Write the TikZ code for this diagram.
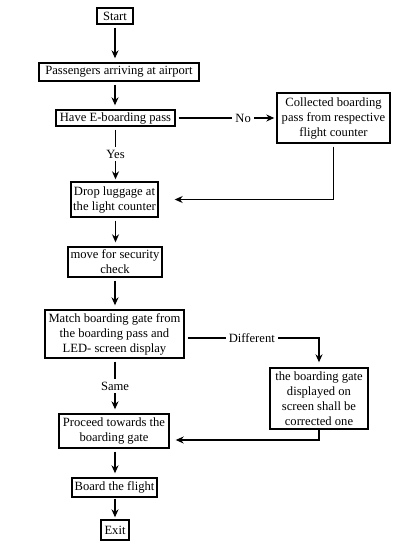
\documentclass[tikz,border=0pt]{standalone}
\usepackage{fontspec}
\setmainfont{Liberation Serif}
\usetikzlibrary{arrows.meta}
\begin{document}
\begin{tikzpicture}[x=1pt,y=-1pt,
  box/.style={draw,line width=1.4pt,inner sep=0pt,align=center,font=\fontsize{12.6}{15}\selectfont},
  arr/.style={line width=1.2pt,-{Stealth[length=8pt,width=7pt]},shorten <=3pt,shorten >=4pt},
  lbl/.style={fill=white,inner sep=3pt,font=\fontsize{12.6}{15}\selectfont}]
\useasboundingbox (0,0) rectangle (400,548);
\node[box,minimum width=36pt,minimum height=16pt] (start) at (115,16) {Start};
\node[box,minimum width=160pt,minimum height=18pt] (pass) at (119,72) {Passengers arriving at airport};
\node[box,minimum width=119pt,minimum height=16pt] (have) at (115.5,118) {Have E-boarding pass};
\node[box,minimum width=113pt,minimum height=50pt] (coll) at (333.5,118) {Collected boarding\\pass from respective\\flight counter};
\node[box,minimum width=87pt,minimum height=35pt] (drop) at (114.5,199.5) {Drop luggage at\\the light counter};
\node[box,minimum width=94pt,minimum height=30pt] (move) at (115,262) {move for security\\check};
\node[box,minimum width=139pt,minimum height=48pt] (match) at (114.5,334) {Match boarding gate from\\the boarding pass and\\LED- screen display};
\node[box,minimum width=98pt,minimum height=61pt] (gate) at (319,398.5) {the boarding gate\\displayed on\\screen shall be\\corrected one};
\node[box,minimum width=110pt,minimum height=34pt] (proceed) at (114,431) {Proceed towards the\\boarding gate};
\node[box,minimum width=85pt,minimum height=19pt] (board) at (114.5,487.5) {Board the flight};
\node[box,minimum width=28pt,minimum height=20pt] (exit) at (115,530) {Exit};

\draw[arr] (start.south) -- (start.south |- pass.north);
\draw[arr] (start.south |- pass.south) -- (start.south |- have.north);
\draw[arr,shorten >=2pt] (have.south) -- node[lbl]{Yes} (have.south |- drop.north);
\draw[arr] (have.south |- drop.south) -- (have.south |- move.north);
\draw[arr] (move.south) -- (move.south |- match.north);
\draw[arr] (move.south |- match.south) -- node[lbl]{Same} (move.south |- proceed.north);
\draw[arr] (move.south |- proceed.south) -- (move.south |- board.north);
\draw[arr,shorten <=1pt,shorten >=2pt] (move.south |- board.south) -- (move.south |- exit.north);

\draw[arr,shorten >=2pt] (have.east) -- node[lbl,pos=0.67]{No} (coll.west);
\draw[arr,shorten >=16pt] (coll.south) |- (drop.east);

\coordinate (m1) at ([yshift=-4pt]match.east);
\coordinate (d1) at (m1 -| gate.north);
\draw[arr,shorten >=5pt] (m1) -- node[lbl]{Different} (d1) -- (gate.north);
\coordinate (p1) at ([yshift=-9pt]proceed.east);
\draw[arr,shorten <=0pt,shorten >=6pt] (gate.south) |- (p1);
\end{tikzpicture}
\end{document}
